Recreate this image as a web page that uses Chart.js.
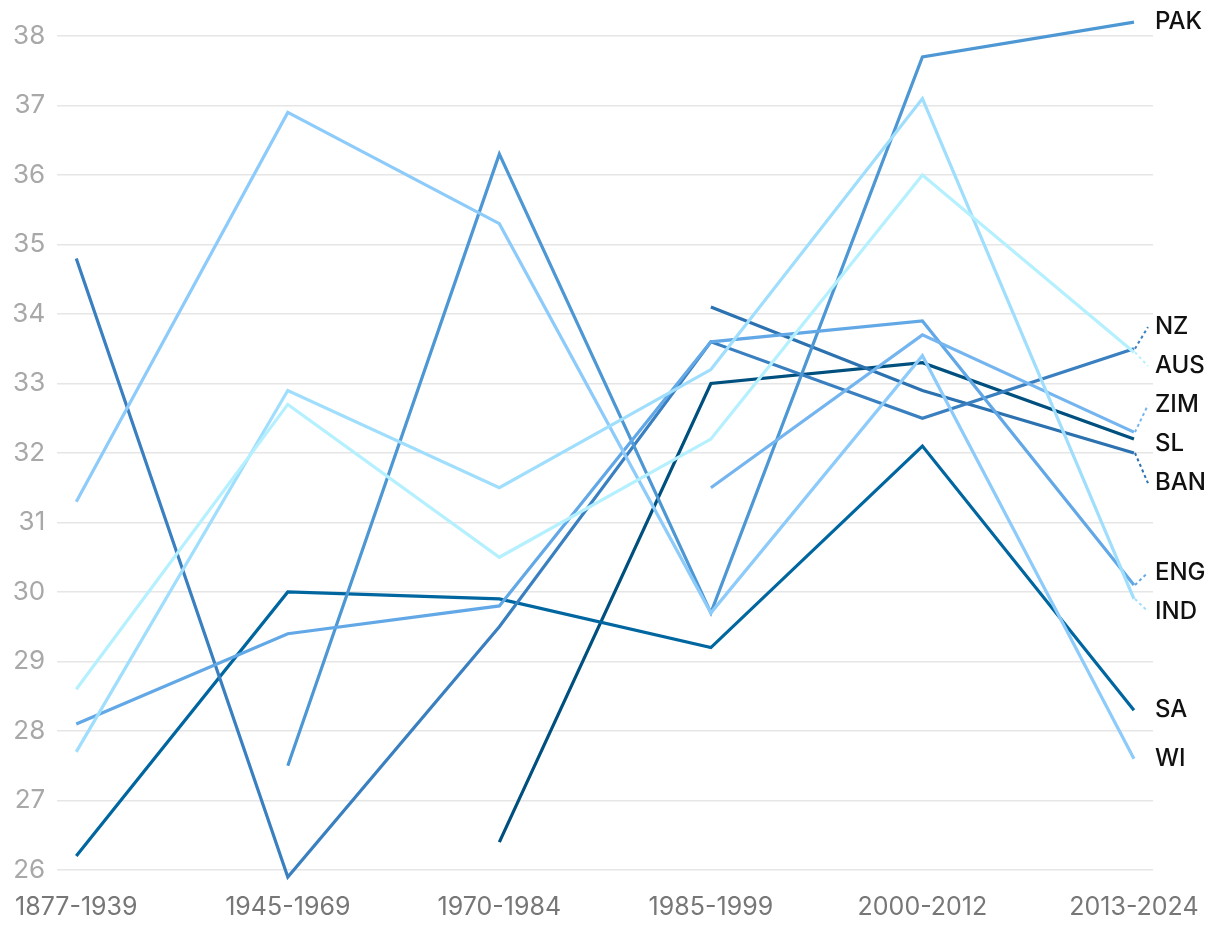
<!DOCTYPE html>
<html>
<head>
<meta charset="utf-8">
<script src="https://cdn.jsdelivr.net/npm/chart.js@4/dist/chart.umd.min.js"></script>
<style>
  html, body { margin: 0; padding: 0; background: #fff; }
  #wrap { width: 1220px; height: 930px; position: relative; }
</style>
</head>
<body>
<div id="wrap"><canvas id="chart"></canvas></div>
<script>
// Periods on the x axis
const categories = ['1877-1939', '1945-1969', '1970-1984', '1985-1999', '2000-2012', '2013-2024'];

// Values per team, one per period (null = no matches in that period)
const PAK = [null, 27.5, 36.3, 29.7, 37.7, 38.2];
const NZ  = [34.8, 25.9, 29.5, 33.6, 32.5, 33.5];
const AUS = [28.6, 32.7, 30.5, 32.2, 36.0, 33.45];
const ZIM = [null, null, null, 31.5, 33.7, 32.3];
const SL  = [null, null, 26.4, 33.0, 33.3, 32.2];
const BAN = [null, null, null, 34.1, 32.9, 32.0];
const ENG = [28.1, 29.4, 29.8, 33.6, 33.9, 30.1];
const IND = [27.7, 32.9, 31.5, 33.2, 37.1, 29.9];
const SA  = [26.2, 30.0, 29.9, 29.2, 32.1, 28.3];
const WI  = [31.3, 36.9, 35.3, 29.7, 33.4, 27.6];

// Y axis ticks
const yTicks = [26, 27, 28, 29, 30, 31, 32, 33, 34, 35, 36, 37, 38];

const teams = [
    { name: 'AUS', values: AUS, color: '#b5f0ff' },
    { name: 'IND', values: IND, color: '#9fdefd' },
    { name: 'WI',  values: WI,  color: '#8dcbfa' },
    { name: 'ZIM', values: ZIM, color: '#74b5f0' },
    { name: 'ENG', values: ENG, color: '#62a8e6' },
    { name: 'PAK', values: PAK, color: '#4d98d4' },
    { name: 'NZ',  values: NZ,  color: '#3a80c0' },
    { name: 'BAN', values: BAN, color: '#2c72b0' },
    { name: 'SA',  values: SA,  color: '#0066a0' },
    { name: 'SL',  values: SL,  color: '#00507f' }
];

const FONT = 'Inter, "Open Sans", sans-serif';

// Team names at the right end, spread apart so they don't overlap
const endLabels = {
    id: 'endLabels',
    afterDatasetsDraw(chart) {
        const ctx = chart.ctx;
        const items = [];
        chart.data.datasets.forEach((ds, i) => {
            const meta = chart.getDatasetMeta(i);
            const pt = meta.data[meta.data.length - 1];
            items.push({ name: ds.label, color: ds.borderColor, x: pt.x, y: pt.y, ly: pt.y });
        });
        items.sort((a, b) => a.y - b.y);

        // group into clusters and center each cluster on its mean
        const gap = 39;
        let clusters = items.map(it => ({ members: [it], center: it.y }));
        let merged = true;
        while (merged) {
            merged = false;
            for (let i = 0; i < clusters.length - 1; i++) {
                const a = clusters[i], b = clusters[i + 1];
                const aBottom = a.center + (a.members.length - 1) * gap / 2;
                const bTop = b.center - (b.members.length - 1) * gap / 2;
                if (bTop - aBottom < gap) {
                    const members = a.members.concat(b.members);
                    const center = members.reduce((s, m) => s + m.y, 0) / members.length;
                    clusters.splice(i, 2, { members, center });
                    merged = true;
                    break;
                }
            }
        }
        clusters.forEach(c => {
            const start = c.center - (c.members.length - 1) * gap / 2;
            c.members.forEach((m, k) => { m.ly = start + k * gap; });
        });

        ctx.save();
        items.forEach(it => {
            if (Math.abs(it.ly - it.y) > 6) {
                ctx.strokeStyle = it.color;
                ctx.lineWidth = 2;
                ctx.setLineDash([3, 3]);
                ctx.beginPath();
                ctx.moveTo(it.x + 1, it.y);
                ctx.lineTo(it.x + 14, it.ly);
                ctx.stroke();
            }
            ctx.setLineDash([]);
            ctx.fillStyle = '#111';
            ctx.font = '500 24px ' + FONT;
            ctx.textAlign = 'left';
            ctx.textBaseline = 'middle';
            ctx.fillText(it.name, it.x + 21, it.ly);
        });
        ctx.restore();
    }
};

new Chart(document.getElementById('chart'), {
    type: 'line',
    data: {
        datasets: teams.map(t => ({
            label: t.name,
            data: t.values.map((v, i) => ({ x: i, y: v })),
            borderColor: t.color,
            borderWidth: 3.2,
            pointRadius: 0,
            tension: 0,
            spanGaps: false,
            clip: false
        }))
    },
    options: {
        responsive: true,
        maintainAspectRatio: false,
        animation: false,
        layout: { padding: { top: 36, right: 67, left: 0, bottom: 0 } },
        plugins: {
            legend: { display: false },
            tooltip: { enabled: false }
        },
        scales: {
            x: {
                type: 'linear',
                min: -0.09,
                max: 5.09,
                grid: { display: false },
                border: { display: false },
                afterBuildTicks: (scale) => {
                    scale.ticks = categories.map((c, i) => ({ value: i }));
                },
                afterFit: (scale) => { scale.height = 60; },
                ticks: {
                    padding: 14,
                    maxRotation: 0,
                    autoSkip: false,
                    color: '#777',
                    font: { family: FONT, size: 25 },
                    callback: (v) => categories[v]
                }
            },
            y: {
                min: yTicks[0],
                max: yTicks[yTicks.length - 1],
                afterBuildTicks: (scale) => {
                    scale.ticks = yTicks.map(v => ({ value: v }));
                },
                afterFit: (scale) => { scale.width = 57; },
                grid: { color: '#e6e6e6', lineWidth: 1.5, drawTicks: false },
                border: { display: false },
                ticks: {
                    padding: 12,
                    color: '#a8a8a8',
                    font: { family: FONT, size: 26 }
                }
            }
        }
    },
    plugins: [endLabels]
});
</script>
</body>
</html>
